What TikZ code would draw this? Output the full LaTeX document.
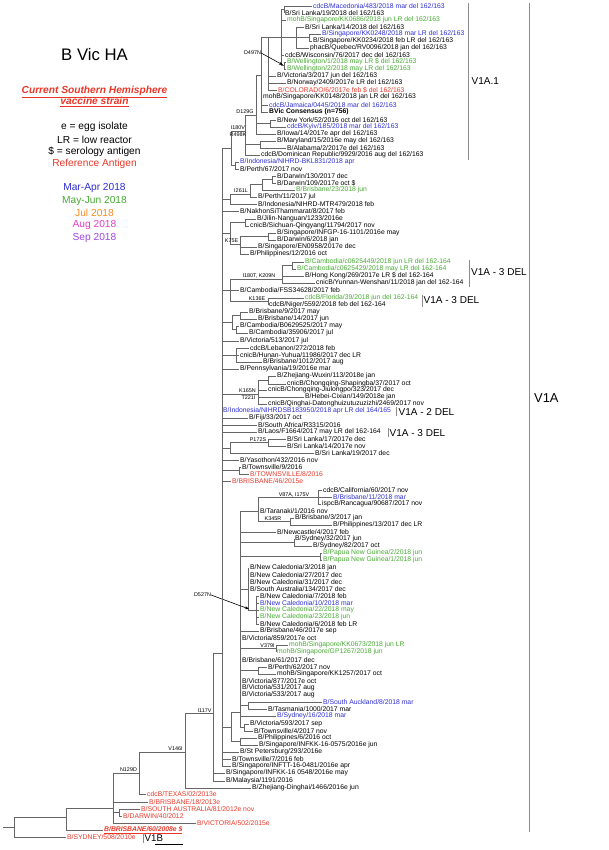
\documentclass[tikz,border=0pt]{standalone}
\usepackage{fontspec}
\setmainfont{Liberation Sans}
\usetikzlibrary{arrows.meta}
\definecolor{cblue}{RGB}{45,45,210}
\definecolor{cgreen}{RGB}{70,170,50}
\definecolor{cred}{RGB}{232,55,40}
\definecolor{corange}{RGB}{245,140,30}
\definecolor{cpink}{RGB}{230,60,200}
\definecolor{cpurple}{RGB}{160,70,220}
\newcount\lfc
\tikzset{
 br/.style={line width=0.45pt, draw=black!60},
 leaf/.style={anchor=west, inner sep=0pt, font=\fontsize{6.8}{7}\selectfont},
 mut/.style={inner sep=0pt, font=\fontsize{5.4}{6}\selectfont},
 cladelab/.style={anchor=west, inner sep=0pt, font=\fontsize{10}{12}\selectfont},
 cladebar/.style={line width=0.6pt, draw=black!45},
 tb/.style={text=cblue}, tg/.style={text=cgreen}, tr/.style={text=cred},
 bfl/.style={font=\fontsize{6.8}{7}\selectfont\bfseries},
 refst/.style={text=cred, font=\fontsize{6.8}{7}\selectfont\bfseries\itshape},
 legend/.style={inner sep=0pt, font=\fontsize{10.2}{12}\selectfont},
 arr/.style={-{Stealth[length=4pt,width=3pt]}, line width=0.6pt}
}
\newcommand\leafn[5]{\global\advance\lfc by 1\relax
 \ifdim #3pt>\dimexpr #2pt+1.2pt\relax \draw[br] (#2,#1) -- (#3-0.8,#1);\fi
 \node[leaf,#4] (lf\the\lfc) at (#3,#1) {#5};}
\newcommand\brh[3]{\draw[br] (#1,#3) -- (#2,#3);}
\newcommand\brv[3]{\draw[br] (#1,#2) -- (#1,#3);}
\begin{document}
\begin{tikzpicture}[x=1pt,y=-1pt]
\useasboundingbox (0,0) rectangle (609,850);
% ---------- title and legend
\node[inner sep=0pt, font=\fontsize{16.7}{18}\selectfont] (title) at (94.5,55) {B Vic HA};
\node[legend, text=cred, font=\fontsize{10.2}{11.7}\selectfont\bfseries\itshape, align=center] (vac) at (94.5,96.5) {\underline{Current Southern Hemisphere}\\\underline{vaccine strain}};
\node[legend] (lg1) at (94.5,127.3) {e = egg isolate};
\node[legend] (lg2) at (94.5,139.5) {LR = low reactor};
\node[legend] (lg3) at (94.5,151.7) {\$ = serology antigen};
\node[legend, text=cred] (lg4) at (94.5,164) {Reference Antigen};
\node[legend, text=cblue] (lg5) at (94.5,188.3) {Mar-Apr 2018};
\node[legend, text=cgreen] (lg6) at (94.5,200.6) {May-Jun 2018};
\node[legend, text=corange] (lg7) at (94.5,212.9) {Jul 2018};
\node[legend, text=cpink] (lg8) at (94.5,225.2) {Aug 2018};
\node[legend, text=cpurple] (lg9) at (94.5,237.5) {Sep 2018};
% ---------- clade A (del 162/163)
\leafn{6}{284}{313}{tb}{cdcB/Macedonia/483/2018 mar del 162/163}
\leafn{13}{284}{285}{}{B/Sri Lanka/19/2018 del 162/163}
\leafn{20}{281}{287}{tg}{mohB/Singapore/KK0686/2018 jun LR del 162/163}
\leafn{27}{296}{305}{}{B/Sri Lanka/14/2018 del 162/163}
\leafn{34}{309}{322}{tb}{B/Singapore/KK0248/2018 mar LR del 162/163}
\leafn{41}{309}{313}{}{B/Singapore/KK0234/2018 feb LR del 162/163}
\leafn{48}{296}{310}{}{phacB/Quebec/RV0096/2018 jan del 162/163}
\leafn{55}{281}{285}{}{cdcB/Wisconsin/76/2017 dec del 162/163}
\leafn{62}{284}{287}{tg}{B/Wellington/1/2018 may LR \$ del 162/163}
\leafn{69}{284}{287}{tg}{B/Wellington/2/2018 may LR del 162/163}
\leafn{76}{268}{277}{}{B/Victoria/3/2017 jun del 162/163}
\leafn{83}{268}{287}{}{B/Norway/2409/2017e LR del 162/163}
\leafn{90}{268}{278}{tr}{B/COLORADO/6/2017e feb \$ del 162/163}
\leafn{97}{261}{263}{}{mohB/Singapore/KK0148/2018 jan LR del 162/163}
\leafn{105}{261}{269}{tb}{cdcB/Jamaica/0445/2018 mar del 162/163}
\leafn{112}{261}{269}{bfl}{BVic Consensus (n=756)}
\leafn{120}{270}{277}{}{B/New York/52/2016 oct del 162/163}
\leafn{127}{270}{287}{tb}{cdcB/Kyiv/185/2018 mar del 162/163}
\leafn{134}{256}{277}{}{B/Iowa/14/2017e apr del 162/163}
\leafn{141}{260}{277}{}{B/Maryland/15/2016e may del 162/163}
\leafn{148}{260}{287}{}{B/Alabama/2/2017e del 162/163}
\leafn{155}{245}{261}{}{cdcB/Dominican Republic/9929/2016 aug del 162/163}
\leafn{162}{235}{240}{tb}{B/Indonesia/NIHRD-BKL831/2018 apr}
\leafn{169}{235}{240}{}{B/Perth/67/2017 nov}
\brv{284}{6}{13} \brh{281}{284}{9.5}
\brv{309}{34}{41} \brh{296}{309}{37.5}
\brv{296}{27}{48} \brh{281}{296}{37}
\brv{284}{62}{69} \brh{281}{284}{65.5}
\brv{281}{9.5}{65.5} \brh{268}{281}{37}
\brv{268}{37}{90} \brh{261}{268}{37}
\brv{261}{37}{112} \brh{256}{261}{75}
\brv{270}{120}{127} \brh{256}{270}{123.5}
\brv{256}{75}{134} \brh{245}{256}{115}
\brv{260}{141}{148} \brh{245}{260}{144.5}
\brv{245}{115}{155} \brh{231}{245}{131}
\brv{235}{162}{169} \brh{231}{235}{165.5}
\brv{231}{131}{165.5} \brh{222}{231}{148}
\node[mut] (m1) at (245,111.5) {D129G};
\node[mut] (m2) at (238,127.5) {I180V};
\node[mut] (m3) at (238,135) {R498K};
\node[mut] (m4) at (252.5,53) {D497N};
\coordinate (a1) at (283,65);
\draw[arr] (m4.east) -- (a1);
% ---------- clade E
\leafn{176}{272}{277}{}{B/Darwin/130/2017 dec}
\leafn{183}{272}{277}{}{B/Darwin/109/2017e oct \$}
\leafn{190}{262}{296}{tg}{B/Brisbane/23/2018 jun}
\leafn{197}{250}{258}{}{B/Perth/11/2017 jul}
\leafn{204}{230}{258}{}{B/Indonesia/NIHRD-MTR479/2018 feb}
\leafn{211}{222}{240}{}{B/NakhonSiThammarat/8/2017 feb}
\brv{272}{176}{183} \brh{262}{272}{179.5}
\brv{262}{179.5}{190} \brh{250}{262}{184}
\brv{250}{184}{197} \brh{230}{250}{194}
\brv{230}{194}{204} \brh{222}{230}{199}
\node[mut] (m5) at (241,191) {I261L};
% ---------- clade F
\leafn{219}{245}{257}{}{B/Jilin-Nanguan/1233/2016e}
\leafn{226}{245}{250}{}{cnicB/Sichuan-Qingyang/11794/2017 nov}
\leafn{233}{268}{277}{}{B/Singapore/INFGP-16-1101/2016e may}
\leafn{240}{268}{277}{}{B/Darwin/6/2018 jan}
\leafn{247}{240}{258}{}{B/Singapore/EN0958/2017e dec}
\leafn{254}{240}{250}{}{B/Philippines/12/2016 oct}
\brv{245}{219}{226} \brh{230}{245}{222.5}
\brv{268}{233}{240} \brh{240}{268}{236.5}
\brv{240}{236.5}{254} \brh{230}{240}{244}
\brv{230}{222.5}{244} \brh{222}{230}{233}
\node[mut] (m6) at (231.5,240.8) {K75E};
% ---------- clade G (del 162-164)
\leafn{262}{292}{305}{tg}{B/Cambodia/c0625449/2018 jun LR del 162-164}
\leafn{269}{292}{297}{tg}{B/Cambodia/c0625429/2018 may LR del 162-164}
\leafn{276}{282}{305}{}{B/Hong Kong/269/2017e LR \$ del 162-164}
\leafn{283}{282}{316}{}{cnicB/Yunnan-Wenshan/11/2018 jan del 162-164}
\leafn{290}{230}{240}{}{B/Cambodia/FSS34628/2017 feb}
\leafn{298}{268}{305}{tg}{cdcB/Florida/39/2018 jun del 162-164}
\leafn{305}{268}{269}{}{cdcB/Niger/5592/2018 feb del 162-164}
\brv{292}{262}{269} \brh{282}{292}{265.5}
\brv{282}{265.5}{283} \brh{230}{282}{279}
\brv{268}{298}{305} \brh{230}{268}{301.5}
\brv{230}{279}{301.5} \brh{222}{230}{290}
\node[mut] (m7) at (259,275.5) {I180T, K209N};
\node[mut] (m8) at (257,298.3) {K136E};
% ---------- clade H, I
\leafn{312}{240}{249}{}{B/Brisbane/9/2017 may}
\leafn{319}{240}{258}{}{B/Brisbane/14/2017 jun}
\leafn{326}{236}{240}{}{B/Cambodia/B0629525/2017 may}
\leafn{333}{236}{249}{}{B/Cambodia/35906/2017 jul}
\leafn{341}{222}{240}{}{B/Victoria/513/2017 jul}
\brv{240}{312}{319} \brh{232}{240}{315.5}
\brv{236}{326}{333} \brh{232}{236}{329.5}
\brv{232}{315.5}{329.5} \brh{222}{232}{322.5}
\leafn{348}{236}{250}{}{cdcB/Lebanon/272/2018 feb}
\leafn{355}{236}{240}{}{cnicB/Hunan-Yuhua/11986/2017 dec LR}
\leafn{362}{236}{263}{}{B/Brisbane/1012/2017 aug}
\leafn{369}{222}{240}{}{B/Pennsylvania/19/2016e mar}
\brv{236}{348}{362} \brh{222}{236}{355}
% ---------- clade J
\leafn{376}{268}{277}{}{B/Zhejiang-Wuxin/113/2018e jan}
\leafn{384}{268}{287}{}{cnicB/Chongqing-Shapingba/37/2017 oct}
\leafn{390}{258}{268}{}{cnicB/Chongqing-Jiulongpo/323/2017 dec}
\leafn{397}{258}{305}{}{B/Hebei-Cixian/149/2018e jan}
\leafn{404}{258}{268}{}{cnicB/Qinghai-Datonghuizutuzuzizhi/2469/2017 nov}
\brv{268}{376}{384} \brh{258}{268}{380}
\brv{258}{380}{404} \brh{222}{258}{394}
\node[mut] (m9) at (247.5,391) {K165N};
\node[mut] (m10) at (248.5,397.8) {T221I};
% ---------- middle leaves
\leafn{411}{222}{223}{tb}{B/Indonesia/NIHRDSB183950/2018 apr LR del 164/165}
\leafn{418}{222}{249}{}{B/Fiji/33/2017 oct}
\leafn{425}{222}{258}{}{B/South Africa/R3315/2016}
\leafn{432}{222}{258}{}{B/Laos/F1664/2017 may LR del 162-164}
\leafn{439}{268}{287}{}{B/Sri Lanka/17/2017e dec}
\leafn{446}{268}{287}{}{B/Sri Lanka/14/2017e nov}
\leafn{453}{230}{315}{}{B/Sri Lanka/19/2017 dec}
\brv{268}{439}{446} \brh{230}{268}{442.5}
\brv{230}{442.5}{453} \brh{222}{230}{448}
\node[mut] (m11) at (258,439.4) {P172S};
\leafn{460}{222}{240}{}{B/Yasothon/432/2016 nov}
\leafn{467}{239}{242}{}{B/Townsville/9/2016}
\leafn{474}{239}{250}{tr}{B/TOWNSVILLE/8/2016}
\brv{239}{467}{474} \brh{222}{239}{470.5}
\leafn{481}{222}{232}{tr}{B/BRISBANE/46/2015e}
% ---------- lower clade L
\leafn{490}{318}{323}{}{cdcB/California/60/2017 nov}
\leafn{497}{318}{333}{tb}{B/Brisbane/11/2018 mar}
\leafn{504}{318}{322}{}{ispcB/Rancagua/90687/2017 nov}
\leafn{511}{258}{260}{}{B/Taranaki/1/2016 nov}
\leafn{518}{290}{295}{}{B/Brisbane/3/2017 jan}
\leafn{525}{290}{333}{}{B/Philippines/13/2017 dec LR}
\leafn{532}{240}{277}{}{B/Newcastle/4/2017 feb}
\leafn{539}{294}{295}{}{B/Sydney/32/2017 jun}
\leafn{546}{294}{313}{}{B/Sydney/82/2017 oct}
\leafn{553}{320}{323}{tg}{B/Papua New Guinea/2/2018 jun}
\leafn{560}{320}{323}{tg}{B/Papua New Guinea/1/2018 jun}
\leafn{568}{248}{250}{}{B/New Caledonia/3/2018 jan}
\leafn{575}{248}{250}{}{B/New Caledonia/27/2017 dec}
\leafn{582}{248}{250}{}{B/New Caledonia/31/2017 dec}
\leafn{589}{248}{250}{}{B/South Australia/134/2017 dec}
\leafn{596}{256}{260}{}{B/New Caledonia/7/2018 feb}
\leafn{603}{256}{260}{tb}{B/New Caledonia/10/2018 mar}
\leafn{610}{256}{260}{tg}{B/New Caledonia/22/2018 may}
\leafn{617}{256}{260}{tg}{B/New Caledonia/23/2018 jun}
\leafn{624}{256}{260}{}{B/New Caledonia/6/2018 feb LR}
\leafn{631}{240}{260}{}{B/Brisbane/46/2017e sep}
\leafn{638}{240}{242}{}{B/Victoria/859/2017e oct}
\leafn{645}{276}{289}{tg}{mohB/Singapore/KK0673/2018 jun LR}
\leafn{652}{276}{277}{tg}{mohB/Singapore/GP1267/2018 jun}
\leafn{660}{240}{242}{}{B/Brisbane/61/2017 dec}
\leafn{667}{258}{268}{}{B/Perth/62/2017 nov}
\leafn{674}{258}{277}{}{mohB/Singapore/KK1257/2017 oct}
\leafn{681}{240}{242}{}{B/Victoria/877/2017e oct}
\leafn{688}{240}{242}{}{B/Victoria/531/2017 aug}
\leafn{695}{240}{242}{}{B/Victoria/533/2017 aug}
\leafn{702}{248}{323}{tb}{B/South Auckland/8/2018 mar}
\leafn{709}{248}{268}{}{B/Tasmania/1000/2017 mar}
\leafn{716}{240}{277}{tb}{B/Sydney/16/2018 mar}
\leafn{724}{244}{250}{}{B/Victoria/593/2017 sep}
\leafn{731}{244}{254}{}{B/Townsville/4/2017 nov}
\leafn{738}{240}{258}{}{B/Philippines/6/2016 oct}
\leafn{745}{240}{259}{}{B/Singapore/INFKK-16-0575/2016e jun}
\brv{318}{490}{504} \brh{258}{318}{497}
\brv{290}{518}{525} \brh{258}{290}{521.5}
\brv{258}{497}{521.5} \brh{240}{258}{511}
\brv{294}{539}{546} \brh{240}{294}{542.5}
\brv{320}{553}{560} \brh{240}{320}{556.5}
\brv{256}{596}{624} \brh{248}{256}{610}
\brv{248}{568}{610} \brh{240}{248}{589}
\brv{276}{645}{652} \brh{240}{276}{648.5}
\brv{258}{667}{674} \brh{240}{258}{670.5}
\brv{248}{702}{709} \brh{240}{248}{705.5}
\brv{244}{724}{731} \brh{240}{244}{727.5}
\brv{240}{511}{727.5} \brh{231}{240}{712}
\brv{240}{738}{745} \brh{231}{240}{741.5}
\brv{231}{712}{741.5} \brh{222}{231}{727}
\node[mut] (m12) at (294,494.5) {V87A, I175V};
\node[mut] (m13) at (273,518.3) {K345R};
\node[mut] (m14) at (267.5,645.8) {V379I};
\node[mut] (m15) at (202.5,595) {D527N};
\coordinate (a2) at (249,609);
\draw[arr] (m15.east) -- (a2);
% ---------- basal part
\leafn{752}{222}{240}{}{B/St Petersburg/293/2016e}
\leafn{759}{222}{232}{}{B/Townsville/7/2016 feb}
\leafn{766}{222}{232}{}{B/Singapore/INFTT-16-0481/2016e apr}
\leafn{773}{213}{226}{}{B/Singapore/INFKK-16 0548/2016e may}
\leafn{781}{213}{226}{}{B/Malaysia/1191/2016}
\leafn{788}{185}{252}{}{B/Zhejiang-Dinghai/1466/2016e jun}
\leafn{794}{139}{147}{tr}{cdcB/TEXAS/02/2013e}
\leafn{802}{113}{149}{tr}{B/BRISBANE/18/2013e}
\leafn{809}{119}{141}{tr}{B/SOUTH AUSTRALIA/81/2012e nov}
\leafn{816}{119}{123}{tr}{B/DARWIN/40/2012}
\leafn{823}{113}{197}{tr}{B/VICTORIA/502/2015e}
\leafn{830}{66}{104}{refst}{\underline{B/BRISBANE/60/2008e \$}}
\leafn{837}{14}{67}{tr}{B/SYDNEY/508/2010e}
\brv{222}{148}{766} \brh{213}{222}{653}
\brv{213}{653}{781} \brh{185}{213}{713}
\brv{185}{713}{788} \brh{139}{185}{752}
\brv{139}{752}{794} \brh{113}{139}{773}
\brv{119}{809}{816} \brh{113}{119}{812.5}
\brv{113}{773}{823} \brh{66}{113}{808}
\brv{66}{808}{830} \brh{14}{66}{817}
\brv{14}{817}{837} \brh{3}{14}{827}
\node[mut] (m16) at (204.5,710.3) {I117V};
\node[mut] (m17) at (175.5,748.8) {V146I};
\node[mut] (m18) at (128.5,769.8) {N129D};
% ---------- clade bars and labels
\coordinate (b1t) at (468,3); \coordinate (b1b) at (468,160);
\draw[cladebar] (b1t) -- (b1b);
\node[cladelab] (c1) at (471.5,81) {V1A.1};
\coordinate (b2t) at (469,260); \coordinate (b2b) at (469,287);
\draw[cladebar] (b2t) -- (b2b);
\node[cladelab] (c2) at (471,272) {V1A - 3 DEL};
\coordinate (b3t) at (422,295); \coordinate (b3b) at (422,307);
\draw[cladebar] (b3t) -- (b3b);
\node[cladelab] (c3) at (423.5,300) {V1A - 3 DEL};
\coordinate (b4t) at (396,407); \coordinate (b4b) at (396,416);
\draw[cladebar] (b4t) -- (b4b);
\node[cladelab] (c4) at (398.5,412) {V1A - 2 DEL};
\coordinate (b5t) at (388,428); \coordinate (b5b) at (388,437);
\draw[cladebar] (b5t) -- (b5b);
\node[cladelab] (c5) at (389.5,433) {V1A - 3 DEL};
\coordinate (b6t) at (529,3); \coordinate (b6b) at (529,832);
\draw[cladebar] (b6t) -- (b6b);
\node[cladelab, font=\fontsize{12.9}{15}\selectfont] (c6) at (534,398) {V1A};
\coordinate (b7t) at (143,833); \coordinate (b7b) at (143,843);
\draw[cladebar] (b7t) -- (b7b);
\node[cladelab, font=\fontsize{9.7}{11}\selectfont] (c7) at (144.5,838.5) {V1B};
% scale bar
\coordinate (s1) at (155,844); \coordinate (s2) at (183,844);
\draw[line width=0.5pt] (s1) -- (s2);
\end{tikzpicture}
\end{document}
